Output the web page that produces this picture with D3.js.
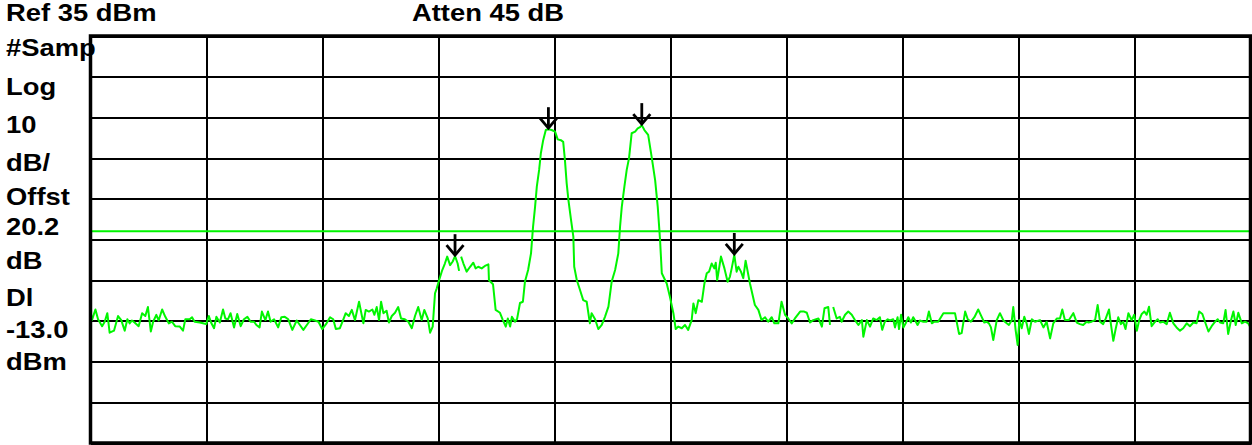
<!DOCTYPE html>
<html><head><meta charset="utf-8">
<script src="https://cdn.jsdelivr.net/npm/d3@7"></script>
<style>html,body{margin:0;padding:0;background:#fff;}svg{display:block;}</style>
</head><body>
<script>
// ---- data ----
const refLevelDbm = 35;
const dbPerDiv = 10;
const numDivs = 10;
const sweepPoints = 401;
const displayLineDbm = -13.0;
const headerLabels = ["Ref 35 dBm", "Atten 45 dB"];
const sideLabels = ["#Samp", "Log", "10", "dB/", "Offst", "20.2", "dB", "Dl", "-13.0", "dBm"];

const traceBin = [0,0.5,1.7,2.6,4.0,4.9,5.8,6.6,8.1,9.5,10.6,11.8,12.7,13.5,14.3,15.2,16.6,17.8,18.9,19.8,20.8,21.6,22.7,23.5,24.7,25.8,27.0,28.1,29.2,30.8,31.9,32.7,34.2,35.0,35.9,37.7,38.8,39.9,40.8,41.7,42.6,43.4,44.6,45.7,46.5,47.4,48.3,49.5,50.6,51.8,52.9,54.1,55.2,56.4,57.2,58.3,59.1,60.3,61.2,62.1,63.3,64.7,65.8,67.0,
68.2,69.6,71.1,72.2,73.4,74.6,76.0,77.4,78.6,79.9,81.4,82.6,83.7,84.6,86.0,87.2,88.0,89.1,90.1,91.2,92.6,94.1,94.9,96.0,97.2,97.9,98.7,99.5,100.2,101.0,102.1,102.9,103.9,105.0,106.1,107.1,108.4,109.6,110.8,111.9,113.0,114.2,115.1,116.3,117.1,118.0,118.8,119.4,120.2,121.3,122.2,123.0,124.0,124.9,125.7,126.6,127.1,127.5,127.8,128.6,129.7,130.9,132.0,132.8,133.7,134.9,136.0,137.2,137.4,
138.8,139.7,141.2,142.2,143.2,143.9,144.7,145.3,146.4,147.1,148.1,149.1,149.8,150.9,151.9,152.6,153.3,153.9,154.7,155.3,156.1,157.0,157.9,159.0,160.2,161.1,162.2,163.0,163.6,164.2,164.8,165.7,166.5,166.8,167.7,168.8,169.9,171.1,172.2,172.8,174.0,175.1,176.3,177.4,178.6,179.7,180.9,182.0,182.6,183.2,184.1,184.9,185.7,186.6,187.8,188.7,189.5,190.1,191.0,192.3,193.5,194.7,195.6,196.4,197.0,198.7,199.8,201.0,201.8,202.7,203.9,
205.0,206.1,207.3,207.9,208.7,209.6,210.8,211.7,212.5,213.3,214.2,215.1,215.6,216.1,217.4,218.6,219.7,220.5,221.1,222.0,222.8,223.4,224.3,225.1,225.9,227.4,229.1,230.3,231.4,232.6,233.7,234.9,235.8,237.2,238.3,239.5,240.6,241.8,242.9,244.7,246.1,247.0,248.1,249.2,251.0,252.2,253.1,254.4,255.0,255.5,256.1,257.3,258.4,259.0,260.2,261.3,262.5,263.6,264.8,266.0,266.5,267.7,268.8,269.9,271.1,272.2,273.0,
273.9,274.9,275.7,276.8,277.4,278.3,278.8,279.5,280.3,281.1,282.0,282.9,283.7,284.6,285.2,286.0,287.2,288.3,289.1,290.1,291.0,292.3,294.1,298.1,299.5,300.4,301.6,302.5,303.6,304.8,306.1,307.3,308.2,309.0,309.8,310.5,311.3,312.5,313.6,314.8,315.6,316.7,317.7,318.2,319.0,319.7,320.3,321.1,322.0,322.8,323.6,324.6,325.7,327.4,328.6,329.7,330.9,332.0,333.2,334.3,335.1,336.0,337.4,338.9,340.1,341.2,342.3,
343.5,344.1,345.2,346.4,347.3,348.1,349.2,350.1,351.2,351.9,352.7,353.5,354.4,355.3,356.1,356.9,357.9,359.0,359.9,360.8,361.6,362.5,363.4,364.2,365.0,365.9,367.1,368.0,368.8,369.9,371.1,372.2,373.4,374.5,375.7,376.8,378.0,379.1,380.3,381.4,382.3,383.4,384.3,385.5,386.6,387.8,388.7,389.5,390.6,391.4,392.3,393.3,394.1,394.9,395.8,397.0,398.1,399.2,400];

const traceDbm = [-32.7,-34.8,-32.2,-34.6,-36.3,-35.2,-33.1,-37.9,-37.4,-33.8,-34.8,-37.4,-34.6,-35.6,-34.9,-35.4,-36.3,-33.1,-33.8,-31.6,-37.6,-35.2,-33.5,-34.9,-32.2,-34.0,-35.6,-35.2,-36.3,-36.4,-37.4,-34.6,-34.6,-34.1,-35.2,-35.4,-35.6,-35.8,-33.8,-35.6,-36.8,-34.0,-35.4,-32.2,-34.4,-34.6,-33.1,-36.6,-33.3,-36.3,-34.6,-34.0,-35.2,-35.2,-36.0,-36.6,-32.7,-34.8,-32.7,-35.2,-34.6,-36.6,-34.1,-34.0,
-34.6,-37.2,-34.9,-36.0,-37.2,-36.0,-34.6,-34.9,-35.2,-37.0,-35.6,-34.1,-34.6,-37.0,-36.8,-34.6,-33.1,-33.8,-32.3,-34.8,-30.3,-35.6,-32.3,-32.7,-32.2,-33.5,-31.6,-34.8,-30.3,-33.1,-32.5,-35.4,-33.8,-33.0,-31.6,-34.4,-34.6,-35.2,-36.8,-33.8,-31.6,-34.8,-32.3,-34.4,-37.9,-36.4,-28.2,-27.0,-25.0,-22.5,-20.9,-19.2,-21.3,-20.4,-19.1,-20.9,-22.7,null,-19.2,-20.9,-22.9,-21.7,-20.7,-22.1,-21.7,-22.1,-21.5,-21.1,-25.0,
-26.0,-32.3,-33.0,-34.8,-36.4,-34.4,-36.4,-34.0,-35.2,-34.5,-30.6,-30.3,-25.4,-22.5,-18.4,-11.9,-7.0,-2.0,2.1,6.2,9.4,11.9,12.1,11.9,11.5,9.6,9.4,9.0,4.5,-1.2,-5.3,-10.2,-14.3,-21.7,-25.0,-27.4,-29.9,-30.3,-35.6,-33.1,-34.6,-37.0,-36.0,-34.0,-31.5,-25.4,-22.5,-18.4,-11.9,-7.0,-2.0,2.1,5.0,11.1,11.5,12.3,12.6,13.1,11.9,10.7,5.3,-0.4,-7.0,-15.1,-23.3,-25.8,-29.1,-33.1,-37.0,-36.4,-36.8,
-36.0,-37.2,-34.8,-30.7,-33.1,-29.9,-30.3,-25.8,-23.3,-22.9,-20.9,-22.1,-20.7,-25.0,-19.2,-22.1,-25.4,-24.1,-22.1,-18.8,-22.9,-21.7,-22.9,-24.5,-20.2,-25.8,-31.1,-32.3,-34.8,-34.1,-35.2,-34.1,-35.6,-35.6,-30.3,-33.5,-34.4,-35.6,-34.4,-32.7,-32.7,-33.0,-35.4,-34.8,-34.4,-36.4,-31.9,-31.6,-36.0,null,-31.6,-34.4,-34.0,-35.2,-33.5,-32.7,-33.5,-34.8,-36.0,-34.8,-38.9,-34.8,-36.4,-34.4,-34.8,-34.1,-37.2,
-35.2,-34.6,-34.9,-34.6,-36.6,-34.1,-37.0,-33.5,-36.6,-35.6,-34.1,-35.4,-34.1,-35.2,-36.0,-34.9,-35.2,-35.2,-32.7,-35.6,-35.2,-35.2,-33.1,-33.1,-38.2,-38.0,-32.7,-34.6,-35.2,-34.1,-32.2,-34.0,-35.4,-35.2,-35.6,-36.6,-39.7,-34.8,-33.1,-34.9,-35.4,-36.0,-34.8,-31.6,-37.2,-40.9,-34.8,-36.8,-34.0,-35.6,-38.2,-34.6,-35.2,-34.8,-36.6,-35.2,-39.3,-35.6,-34.4,-34.4,-32.2,-34.8,-34.8,-33.1,-35.4,-35.8,-36.0,
-35.2,-35.4,-35.2,-34.8,-31.1,-35.2,-35.8,-34.4,-32.2,-36.0,-39.9,-37.0,-34.1,-35.8,-35.2,-37.0,-33.1,-34.8,-33.5,-37.4,-34.9,-33.3,-32.7,-33.5,-31.5,-36.3,-35.2,-34.6,-35.4,-35.2,-35.8,-33.0,-35.6,-36.6,-37.4,-36.8,-35.6,-36.3,-35.4,-35.6,-32.7,-33.3,-35.2,-37.6,-36.3,-35.2,-34.6,-35.4,-35.6,-32.3,-38.2,-34.8,-32.7,-36.0,-33.0,-35.6,-35.2,-35.6,-36.6];

const markerBin = [125.7, 157.9, 190.1, 222.0];
const markerDbm = [-19.1, 12.1, 13.1, -18.8];

// ---- layout ----
const W = 1252, H = 445;
const plot = {left: 90.5, right: 1250.5, top: 36, bottom: 443};
const traceColor = "#00f500";

const svg = d3.select("body").append("svg").attr("width", W).attr("height", H)
  .style("background", "#fff");

const x = d3.scaleLinear().domain([0, sweepPoints - 1]).range([plot.left, plot.right]);
const y = d3.scaleLinear().domain([refLevelDbm - dbPerDiv * numDivs, refLevelDbm]).range([plot.bottom, plot.top]);

// grid via axes
const xGrid = d3.axisBottom(x).tickValues(d3.range(0, sweepPoints, (sweepPoints - 1) / numDivs))
  .tickSize(-(plot.bottom - plot.top)).tickFormat("");
const yGrid = d3.axisLeft(y).tickValues(d3.range(refLevelDbm - dbPerDiv * numDivs, refLevelDbm + 1, dbPerDiv))
  .tickSize(-(plot.right - plot.left)).tickFormat("");

const gx = svg.append("g").attr("transform", `translate(0,${plot.bottom})`).call(xGrid);
const gy = svg.append("g").attr("transform", `translate(${plot.left},0)`).call(yGrid);
[gx, gy].forEach(g => {
  g.select(".domain").remove();
  g.selectAll(".tick line").attr("stroke", "#000").attr("stroke-width", 2).attr("shape-rendering", "crispEdges");
});

// display line
svg.append("line")
  .attr("x1", plot.left).attr("x2", plot.right)
  .attr("y1", y(displayLineDbm)).attr("y2", y(displayLineDbm))
  .attr("stroke", traceColor).attr("stroke-width", 2);

// trace
const pts = traceBin.map((b, i) => ({b, v: traceDbm[i]}));
const line = d3.line().defined(d => d.v !== null).x(d => x(d.b)).y(d => y(d.v));
svg.append("path").datum(pts).attr("d", line)
  .attr("fill", "none").attr("stroke", traceColor).attr("stroke-width", 2)
  .attr("stroke-linejoin", "round");

// outer frame
svg.append("rect").attr("x", plot.left).attr("y", plot.top)
  .attr("width", plot.right - plot.left).attr("height", plot.bottom - plot.top)
  .attr("fill", "none").attr("stroke", "#000").attr("stroke-width", 3.5);

// markers
markerBin.forEach((b, i) => {
  const mx = x(b), my = y(markerDbm[i]) - 1;
  const g = svg.append("g").attr("stroke", "#000").attr("stroke-width", 2.8).attr("fill", "none");
  g.append("line").attr("x1", mx).attr("x2", mx).attr("y1", my - 21).attr("y2", my);
  g.append("path").attr("d", `M${mx - 8.5},${my - 10}L${mx},${my}L${mx + 8.5},${my - 10}`);
});

// texts
const font = "'Liberation Sans', Arial, sans-serif";
function label(txt, tx, ty) {
  svg.append("text").attr("transform", `translate(${tx},${ty}) scale(1.19,1)`)
    .attr("font-family", font).attr("font-weight", "bold").attr("font-size", 23)
    .attr("fill", "#000").text(txt);
}
label(headerLabels[0], 6, 21);
label(headerLabels[1], 412, 21);
const sideBase = [56, 95, 133, 171, 205, 235, 269, 306, 338, 370];
sideLabels.forEach((t, i) => label(t, 6, sideBase[i]));
</script>
</body></html>
